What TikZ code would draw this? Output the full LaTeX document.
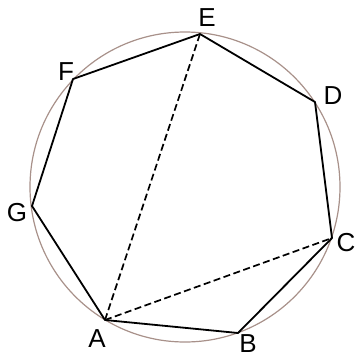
\documentclass[tikz,border=0pt]{standalone}
\usepackage{fontspec}
\setmainfont{Liberation Sans}
\usetikzlibrary{math}
\definecolor{circgray}{RGB}{168,145,138}

\begin{document}
\begin{tikzpicture}[x=1pt,y=-1pt]
\tikzmath{
\R=155;
}
\useasboundingbox (0,0) rectangle (356,357);

\coordinate (O) at (185,187);
\coordinate (A) at (105,320);
\coordinate (B) at (238,333);
\coordinate (C) at (332,238);
\coordinate (D) at (315,102);
\coordinate (E) at (200,34);
\coordinate (F) at (73,79);
\coordinate (G) at (32,206);

\draw[color=circgray,line width=1.2] (O) circle (\R);

\draw[line width=1.8,line join=round] (A) -- (B) -- (C) -- (D) -- (E) -- (F) -- (G) -- cycle;
\draw[line width=1.7,dash pattern=on 7pt off 3.5pt] (A) -- (E);
\draw[line width=1.7,dash pattern=on 7pt off 3.5pt] (A) -- (C);

\node[inner sep=0pt,font=\fontsize{26}{26}\selectfont] (labA) at (97,339) {A};
\node[inner sep=0pt,font=\fontsize{26}{26}\selectfont] (labB) at (248,344) {B};
\node[inner sep=0pt,font=\fontsize{26}{26}\selectfont] (labC) at (346,243) {C};
\node[inner sep=0pt,font=\fontsize{26}{26}\selectfont] (labD) at (333,96) {D};
\node[inner sep=0pt,font=\fontsize{26}{26}\selectfont] (labE) at (207,18) {E};
\node[inner sep=0pt,font=\fontsize{26}{26}\selectfont] (labF) at (66,72) {F};
\node[inner sep=0pt,font=\fontsize{26}{26}\selectfont] (labG) at (17,213) {G};

\end{tikzpicture}
\end{document}
